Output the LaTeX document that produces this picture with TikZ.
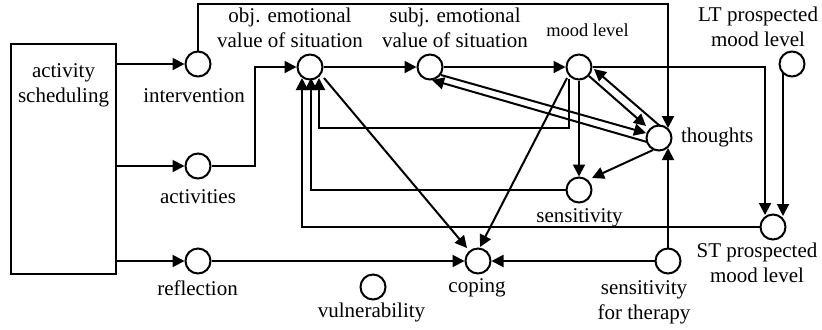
\documentclass[tikz,border=0pt]{standalone}
\usepackage{fontspec}
\setmainfont{Liberation Serif}
\usetikzlibrary{arrows.meta,calc}
\begin{document}
\begin{tikzpicture}[x=0.5pt,y=-0.5pt,line width=1pt,
  circ/.style={circle,draw,minimum size=12.5pt,inner sep=0pt},
  lbl/.style={anchor=north,inner sep=0pt,align=center,font=\fontsize{10.5}{12.5}\selectfont\strut},
  arr/.style={-{Triangle[length=6pt,width=6pt]}},
]
\useasboundingbox (0,0) rectangle (822,329);
% box
\node[draw,minimum width=52.5pt,minimum height=115pt,inner sep=0pt] (sched) at (63.5,159) {};
\node[lbl] (schedtxt) at (63.5,62.5) {activity\\scheduling};
% circles
\node[circ] (intv) at (198,64) {};
\node[circ] (act) at (198,166) {};
\node[circ] (refl) at (198,261) {};
\node[circ] (obj) at (310,67) {};
\node[circ] (subj) at (430,67) {};
\node[circ] (mood) at (579,67) {};
\node[circ] (LT) at (792,64) {};
\node[circ] (th) at (659,138) {};
\node[circ] (sens) at (579,190) {};
\node[circ] (ST) at (773,227) {};
\node[circ] (cop) at (478,261) {};
\node[circ] (vul) at (373,287) {};
\node[circ] (sft) at (668,261) {};
% labels
\node[lbl] (objtxt) at (290,7) {obj. emotional\\value of situation};
\node[lbl] (subjtxt) at (455,7) {subj. emotional\\value of situation};
\node[lbl,font=\fontsize{9.2}{11}\selectfont\strut] (moodtxt) at (587.5,20.5) {mood level};
\node[lbl] (LTtxt) at (758,6) {LT prospected\\mood level};
\node[lbl,anchor=north west] (thtxt) at (680,123.5) {thoughts};
\node[lbl] (senstxt) at (579.5,203.5) {sensitivity};
\node[lbl] (STtxt) at (757,242) {ST prospected\\mood level};
\node[lbl] (sfttxt) at (644,279.5) {sensitivity\\for therapy};
\node[lbl] (coptxt) at (477,273.5) {coping};
\node[lbl] (vultxt) at (371.5,298.5) {vulnerability};
\node[lbl] (intvtxt) at (194,83.5) {intervention};
\node[lbl] (acttxt) at (198,184.5) {activities};
\node[lbl] (refltxt) at (197.5,277) {reflection};
% connectors
\draw[arr] (sched.east |- intv) -- (intv.west);
\draw[arr] (sched.east |- act) -- (act.west);
\draw[arr] (sched.east |- refl) -- (refl.west);
\draw[arr] (intv.north) |- ($(th)+(9,-134)$) -- ($(th)+(9,-10)$);
\draw[arr] (act.east) -| ($(obj)+(-55,0)$) -- (obj.west);
\draw[arr] (obj.east) -- (subj.west);
\draw[arr] (subj.east) -- (mood.west);
\draw[arr] (mood.east) -| ($(ST)+(-8,-12)$);
\draw[arr] ($(LT)+(-9,9)$) -- ($(ST)+(10,-11)$);
% mood <-> thoughts
\draw[arr] ($(th)+(1,-12)$) -- ($(mood)+(15,2)$);
\draw[arr] ($(mood)+(10,9)$) -- ($(th)+(-13,-12)$);
% subj <-> thoughts
\draw[arr] ($(subj)+(11,8)$) -- ($(th)+(-13,-5)$);
\draw[arr] ($(th)+(-12,4)$) -- ($(subj)+(2,13)$);
% into obj from below
\draw[arr] ($(mood)+(-10,12)$) -- ($(mood)+(-10,61)$) -| ($(obj)+(9,11)$);
\draw[arr] (sens.west) -| ($(obj)+(1,11)$);
\draw[arr] (ST.west) -| ($(obj)+(-8,11)$);
% coping
\draw[arr] ($(obj)+(14,11)$) -- ($(cop)+(-11,-13)$);
\draw[arr] ($(mood)+(-12,11)$) -- ($(cop)+(2,-14)$);
\draw[arr] (refl.east) -- (cop.west);
\draw[arr] (sft.west) -- (cop.east);
\draw[arr] (sft.north) -- ($(th)+(9,10)$);
% sensitivity
\draw[arr] (mood.south) -- (sens.north);
\draw[arr] ($(th)+(-6,12)$) -- ($(sens)+(13,-12)$);
\end{tikzpicture}
\end{document}
